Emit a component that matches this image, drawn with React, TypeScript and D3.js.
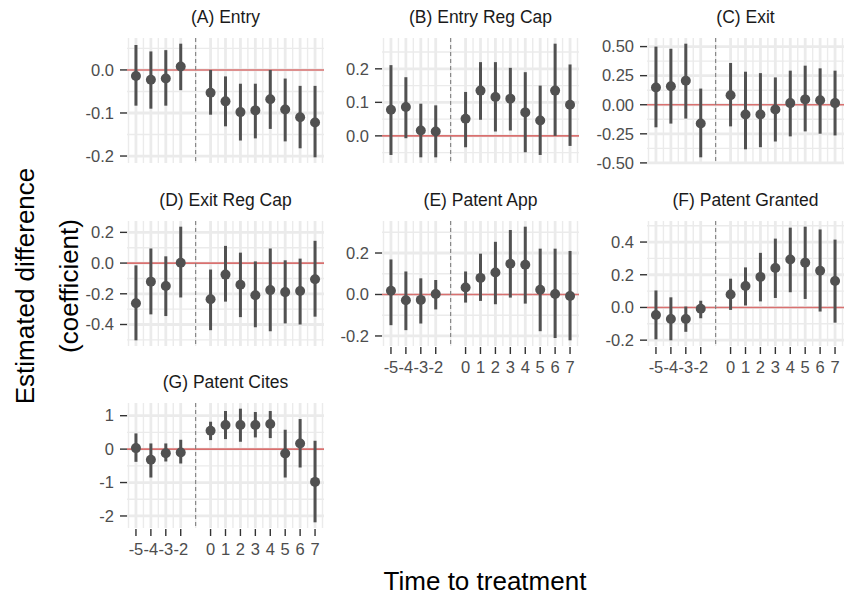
import * as d3 from "d3";

const WIDTH = 846;
const HEIGHT = 599;
const PANEL_W = 197;
const PANEL_H = 125;
const COL_X = [127, 382, 647];
const ROW_Y = [38, 221, 403];
const FONT = "'Liberation Sans', Arial, Helvetica, sans-serif";

// event time (treatment at 0, -1 is the omitted reference period)
const periods = [-5, -4, -3, -2, 0, 1, 2, 3, 4, 5, 6, 7];

const titles = [
  "(A) Entry",
  "(B) Entry Reg Cap",
  "(C) Exit",
  "(D) Exit Reg Cap",
  "(E) Patent App",
  "(F) Patent Granted",
  "(G) Patent Cites",
];

const entryEst = [-0.014, -0.023, -0.02, 0.008, -0.053, -0.073, -0.098, -0.094, -0.068, -0.092, -0.11, -0.122];
const entryLo = [-0.083, -0.09, -0.083, -0.047, -0.104, -0.131, -0.164, -0.159, -0.137, -0.166, -0.182, -0.203];
const entryHi = [0.058, 0.043, 0.046, 0.061, 0.0, -0.015, -0.032, -0.032, 0.0, -0.02, -0.037, -0.037];

const entryCapEst = [0.078, 0.086, 0.016, 0.013, 0.051, 0.135, 0.116, 0.111, 0.07, 0.046, 0.135, 0.093];
const entryCapLo = [-0.057, -0.007, -0.064, -0.064, -0.034, 0.048, 0.013, 0.016, -0.049, -0.057, 0.0, -0.03];
const entryCapHi = [0.211, 0.175, 0.096, 0.091, 0.131, 0.22, 0.22, 0.203, 0.19, 0.15, 0.275, 0.213];

const exitEst = [0.148, 0.159, 0.206, -0.162, 0.081, -0.084, -0.084, -0.041, 0.014, 0.046, 0.038, 0.014];
const exitLo = [-0.194, -0.162, -0.119, -0.452, -0.186, -0.383, -0.365, -0.316, -0.272, -0.229, -0.249, -0.264];
const exitHi = [0.5, 0.481, 0.525, 0.139, 0.359, 0.284, 0.272, 0.235, 0.293, 0.336, 0.313, 0.293];

const exitCapEst = [-0.262, -0.121, -0.149, 0.002, -0.235, -0.075, -0.141, -0.209, -0.176, -0.189, -0.182, -0.105];
const exitCapLo = [-0.503, -0.334, -0.345, -0.224, -0.437, -0.251, -0.352, -0.418, -0.444, -0.393, -0.4, -0.349];
const exitCapHi = [-0.015, 0.095, 0.044, 0.237, -0.042, 0.112, 0.068, 0.011, 0.095, 0.018, 0.029, 0.145];

const appEst = [0.018, -0.028, -0.026, 0.002, 0.034, 0.08, 0.106, 0.148, 0.143, 0.023, 0.002, -0.007];
const appLo = [-0.148, -0.172, -0.14, -0.072, -0.039, -0.031, -0.047, -0.015, -0.044, -0.177, -0.21, -0.221];
const appHi = [0.169, 0.111, 0.078, 0.07, 0.111, 0.197, 0.254, 0.311, 0.327, 0.221, 0.221, 0.21];

const grantEst = [-0.046, -0.071, -0.071, -0.008, 0.079, 0.131, 0.187, 0.241, 0.293, 0.274, 0.224, 0.162];
const grantLo = [-0.195, -0.201, -0.149, -0.066, -0.015, 0.012, 0.037, 0.058, 0.093, 0.052, -0.025, -0.093];
const grantHi = [0.104, 0.062, 0.006, 0.041, 0.176, 0.245, 0.334, 0.421, 0.488, 0.494, 0.477, 0.415];

const citesEst = [0.03, -0.32, -0.12, -0.1, 0.55, 0.72, 0.72, 0.72, 0.75, -0.13, 0.17, -0.98];
const citesLo = [-0.38, -0.85, -0.37, -0.43, 0.27, 0.3, 0.22, 0.35, 0.33, -0.85, -0.55, -2.19];
const citesHi = [0.47, 0.17, 0.17, 0.28, 0.82, 1.14, 1.21, 1.11, 1.14, 0.58, 0.9, 0.25];

// y breaks and their labels per panel
const yBreaks = [
  [-0.2, -0.1, 0.0],
  [0.0, 0.1, 0.2],
  [-0.5, -0.25, 0.0, 0.25, 0.5],
  [-0.4, -0.2, 0.0, 0.2],
  [-0.2, 0.0, 0.2],
  [-0.2, 0.0, 0.2, 0.4],
  [-2, -1, 0, 1],
];
const yLabels = [
  ["-0.2", "-0.1", "0.0"],
  ["0.0", "0.1", "0.2"],
  ["-0.50", "-0.25", "0.00", "0.25", "0.50"],
  ["-0.4", "-0.2", "0.0", "0.2"],
  ["-0.2", "0.0", "0.2"],
  ["-0.2", "0.0", "0.2", "0.4"],
  ["-2", "-1", "0", "1"],
];

const series = [
  [entryEst, entryLo, entryHi],
  [entryCapEst, entryCapLo, entryCapHi],
  [exitEst, exitLo, exitHi],
  [exitCapEst, exitCapLo, exitCapHi],
  [appEst, appLo, appHi],
  [grantEst, grantLo, grantHi],
  [citesEst, citesLo, citesHi],
];

// panel i -> column/row in the 3-wide facet grid; bottom panel of each column gets x labels
const bottomOfColumn = [6, 4, 5];

const minorBreaks = (breaks: number[]) => {
  const step = breaks[1] - breaks[0];
  const ext = [breaks[0] - step, ...breaks, breaks[breaks.length - 1] + step];
  const out: number[] = [];
  for (let i = 0; i < ext.length - 1; i++) out.push((ext[i] + ext[i + 1]) / 2);
  return out;
};

const Panel = ({ idx }: { idx: number }) => {
  const col = idx % 3;
  const row = Math.floor(idx / 3);
  const left = COL_X[col];
  const top = ROW_Y[row];
  const [est, lo, hi] = series[idx];

  const [xMin, xMax] = d3.extent(periods) as [number, number];
  const xPad = (xMax - xMin) * 0.05;
  const xScale = d3.scaleLinear().domain([xMin - xPad, xMax + xPad]).range([0, PANEL_W]);

  const yMin = d3.min(lo) as number;
  const yMax = d3.max(hi) as number;
  const yPad = (yMax - yMin) * 0.05;
  const yScale = d3.scaleLinear().domain([yMin - yPad, yMax + yPad]).range([PANEL_H, 0]);
  const [d0, d1] = yScale.domain();

  const xMinor: number[] = [];
  const xExt = [xMin - 1, ...periods, xMax + 1];
  for (let i = 0; i < xExt.length - 1; i++) xMinor.push((xExt[i] + xExt[i + 1]) / 2);
  const xMinorIn = xMinor.filter((v) => v >= xMin - xPad && v <= xMax + xPad);

  const yMinor = minorBreaks(yBreaks[idx]).filter((v) => v >= d0 && v <= d1);
  const showX = bottomOfColumn[col] === idx;

  return (
    <g transform={`translate(${left},${top})`}>
      <text
        x={PANEL_W / 2}
        y={-15}
        textAnchor="middle"
        fontSize={17.5}
        fill="#1a1a1a"
        fontFamily={FONT}
      >
        {titles[idx]}
      </text>

      {/* grid */}
      {yMinor.map((v, i) => (
        <line key={`ym${i}`} x1={0} x2={PANEL_W} y1={yScale(v)} y2={yScale(v)} stroke="#ebebeb" strokeWidth={1.4} />
      ))}
      {xMinorIn.map((v, i) => (
        <line key={`xm${i}`} x1={xScale(v)} x2={xScale(v)} y1={0} y2={PANEL_H} stroke="#ebebeb" strokeWidth={1.4} />
      ))}
      {yBreaks[idx].map((v, i) => (
        <line key={`yM${i}`} x1={0} x2={PANEL_W} y1={yScale(v)} y2={yScale(v)} stroke="#ebebeb" strokeWidth={2.8} />
      ))}
      {periods.map((v, i) => (
        <line key={`xM${i}`} x1={xScale(v)} x2={xScale(v)} y1={0} y2={PANEL_H} stroke="#ebebeb" strokeWidth={2.8} />
      ))}

      {/* reference lines */}
      <line x1={0} x2={PANEL_W} y1={yScale(0)} y2={yScale(0)} stroke="#d9706f" strokeWidth={1.6} />
      <line
        x1={xScale(-1)}
        x2={xScale(-1)}
        y1={0}
        y2={PANEL_H}
        stroke="#7f7f7f"
        strokeWidth={1.1}
        strokeDasharray="4,3"
      />

      {/* point ranges */}
      {periods.map((p, i) => (
        <g key={`pr${i}`}>
          <line
            x1={xScale(p)}
            x2={xScale(p)}
            y1={yScale(lo[i])}
            y2={yScale(hi[i])}
            stroke="#515151"
            strokeWidth={3}
          />
          <circle cx={xScale(p)} cy={yScale(est[i])} r={5} fill="#515151" />
        </g>
      ))}

      {/* y axis */}
      {yBreaks[idx].map((v, i) => (
        <g key={`yt${i}`} transform={`translate(0,${yScale(v)})`}>
          <line x1={-7} x2={0} stroke="#333333" strokeWidth={1.4} />
          <text
            x={-13}
            dy="0.35em"
            textAnchor="end"
            fontSize={16.5}
            fill="#4d4d4d"
            fontFamily={FONT}
          >
            {yLabels[idx][i]}
          </text>
        </g>
      ))}

      {/* x axis on the bottom panel of each column */}
      {showX &&
        periods.map((p, i) => (
          <g key={`xt${i}`} transform={`translate(${xScale(p)},${PANEL_H})`}>
            <line y1={1} y2={8} stroke="#333333" strokeWidth={1.4} />
            <text y={27} textAnchor="middle" fontSize={16.5} fill="#4d4d4d" fontFamily={FONT}>
              {String(p)}
            </text>
          </g>
        ))}
    </g>
  );
};

export default function App() {
  return (
    <svg
      width={WIDTH}
      height={HEIGHT}
      style={{ position: "absolute", left: 0, top: 0, background: "#ffffff" }}
    >
      {titles.map((_, i) => (
        <Panel key={i} idx={i} />
      ))}
      <text x={485} y={590} textAnchor="middle" fontSize={26} fill="#000" fontFamily={FONT}>
        Time to treatment
      </text>
      <g transform="translate(34,286) rotate(-90)">
        <text textAnchor="middle" fontSize={26} fill="#000" fontFamily={FONT}>
          Estimated difference
        </text>
      </g>
      <g transform="translate(78,286) rotate(-90)">
        <text textAnchor="middle" fontSize={26} fill="#000" fontFamily={FONT}>
          (coefficient)
        </text>
      </g>
    </svg>
  );
}
